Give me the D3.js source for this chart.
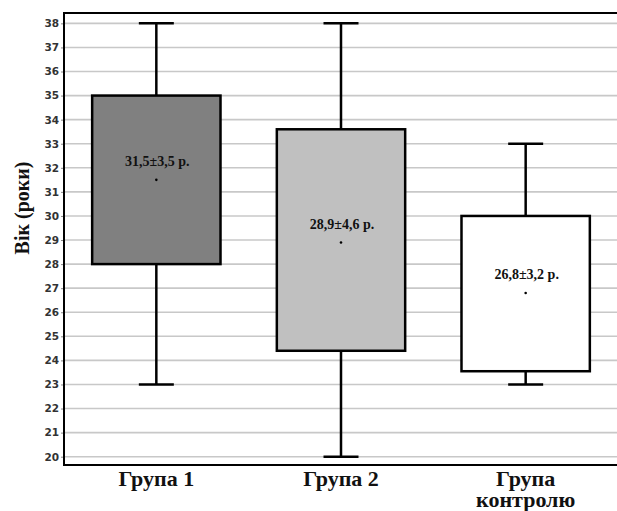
<!DOCTYPE html>
<html>
<head>
<meta charset="utf-8">
<script src="https://cdn.jsdelivr.net/npm/d3@7"></script>
<style>
  body { margin: 0; background: #fff; }
  svg { display: block; }
  .serif { font-family: "Liberation Serif", "DejaVu Serif", "Times New Roman", Times, serif; font-weight: bold; fill: #111; }
  .tick text { font-family: "DejaVu Sans", Verdana, sans-serif; font-weight: bold; font-size: 10.5px; fill: #333; }
</style>
</head>
<body>
<div id="chart"></div>
<script>
// Data
const groups = ['Група 1', 'Група 2', 'Група контролю'];
const whiskerLow = [23, 20, 23];
const boxLow = [28, 24.4, 23.55];
const boxHigh = [35, 33.6, 30];
const whiskerHigh = [38, 38, 33];
const means = [31.5, 28.9, 26.8];
const meanLabels = ['31,5±3,5 р.', '28,9±4,6 р.', '26,8±3,2 р.'];
const boxFills = ['#808080', '#c0c0c0', '#ffffff'];
const yTicks = d3.range(20, 39);

const width = 617;
const height = 511;
const plot = { left: 64, right: 618, top: 13, bottom: 465 };

const svg = d3.select('#chart')
    .append('svg')
    .attr('width', width)
    .attr('height', height);

const y = d3.scaleLinear()
    .domain([19.655, 38.43])
    .range([plot.bottom, plot.top]);

const x = d3.scalePoint()
    .domain(groups)
    .range([plot.left, plot.right])
    .padding(0.5);

const boxWidth = x.step() * 0.695;
const capWidth = 35;

// Gridlines
svg.append('g')
    .selectAll('line')
    .data(yTicks)
    .join('line')
    .attr('x1', plot.left)
    .attr('x2', width)
    .attr('y1', d => y(d))
    .attr('y2', d => y(d))
    .attr('stroke', '#c8c8c8')
    .attr('stroke-width', 1.6);

// Y axis
const yAxis = svg.append('g')
    .attr('transform', `translate(${plot.left},0)`)
    .call(d3.axisLeft(y).tickValues(yTicks).tickSize(3).tickPadding(2));
yAxis.select('.domain').remove();
yAxis.selectAll('.tick line').attr('stroke', '#888');
yAxis.selectAll('text').attr('fill', null);

// Frame: left, top and bottom
svg.append('path')
    .attr('d', `M${width},${plot.top}H${plot.left}V${plot.bottom}H${width}`)
    .attr('fill', 'none')
    .attr('stroke', '#000')
    .attr('stroke-width', 2);

// Boxes
const box = svg.append('g')
    .selectAll('g')
    .data(groups)
    .join('g')
    .attr('transform', d => `translate(${x(d)},0)`);

box.append('line')
    .attr('x1', 0).attr('x2', 0)
    .attr('y1', (d, i) => y(whiskerHigh[i]))
    .attr('y2', (d, i) => y(whiskerLow[i]))
    .attr('stroke', '#000')
    .attr('stroke-width', 2.5);

box.append('line')
    .attr('x1', -capWidth / 2).attr('x2', capWidth / 2)
    .attr('y1', (d, i) => y(whiskerHigh[i]))
    .attr('y2', (d, i) => y(whiskerHigh[i]))
    .attr('stroke', '#000')
    .attr('stroke-width', 2.5);

box.append('line')
    .attr('x1', -capWidth / 2).attr('x2', capWidth / 2)
    .attr('y1', (d, i) => y(whiskerLow[i]))
    .attr('y2', (d, i) => y(whiskerLow[i]))
    .attr('stroke', '#000')
    .attr('stroke-width', 2.5);

box.append('rect')
    .attr('x', -boxWidth / 2)
    .attr('width', boxWidth)
    .attr('y', (d, i) => y(boxHigh[i]))
    .attr('height', (d, i) => y(boxLow[i]) - y(boxHigh[i]))
    .attr('fill', (d, i) => boxFills[i])
    .attr('stroke', '#000')
    .attr('stroke-width', 2.5);

box.append('circle')
    .attr('cx', 0)
    .attr('cy', (d, i) => y(means[i]))
    .attr('r', 1.3)
    .attr('fill', '#000');

box.append('text')
    .attr('class', 'serif')
    .attr('x', 1)
    .attr('y', (d, i) => y(means[i]) - 13.5)
    .attr('text-anchor', 'middle')
    .style('font-size', '14px')
    .text((d, i) => meanLabels[i]);

// Category labels (the control group wraps onto two lines)
const catLabels = svg.append('g')
    .selectAll('text')
    .data(groups)
    .join('text')
    .attr('class', 'serif')
    .attr('x', d => x(d))
    .attr('y', 486)
    .attr('text-anchor', 'middle')
    .style('font-size', '22px');

catLabels.each(function(d) {
    const words = d === 'Група контролю' ? ['Група', 'контролю'] : [d];
    d3.select(this).selectAll('tspan')
        .data(words)
        .join('tspan')
        .attr('x', x(d))
        .attr('dy', (w, i) => i === 0 ? 0 : 21)
        .text(w => w);
});

// Y axis title
svg.append('text')
    .attr('class', 'serif')
    .attr('transform', 'translate(29,208) rotate(-90)')
    .attr('text-anchor', 'middle')
    .style('font-size', '20px')
    .text('Вік (роки)');
</script>
</body>
</html>
